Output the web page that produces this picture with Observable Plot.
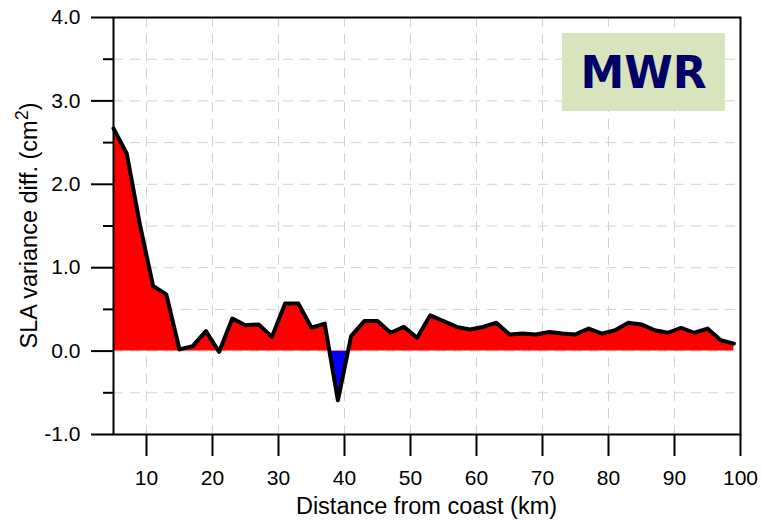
<!DOCTYPE html>
<html>
<head>
<meta charset="utf-8">
<script src="https://cdn.jsdelivr.net/npm/d3@7"></script>
<script src="https://cdn.jsdelivr.net/npm/@observablehq/plot@0.6"></script>
<style>
  html, body { margin: 0; padding: 0; background: #fff; }
  #chart svg { display: block; background: #fff; }
</style>
</head>
<body>
<div id="chart"></div>
<script>
// Distance from the coast (km) of each along-track sample
const distance = [5, 7, 9, 11, 13, 15, 17, 19, 21, 23, 25, 27, 29, 31, 33, 35,
  37, 39, 41, 43, 45, 47, 49, 51, 53, 55, 57, 59, 61, 63, 65, 67,
  69, 71, 73, 75, 77, 79, 81, 83, 85, 87, 89, 91, 93, 95, 97, 99];

// SLA variance difference (cm^2) at each distance
const varianceDiff = [2.67, 2.37, 1.52, 0.78, 0.68, 0.02, 0.06, 0.24, -0.01, 0.39, 0.31, 0.32, 0.17, 0.57, 0.57, 0.28,
  0.33, -0.59, 0.18, 0.36, 0.36, 0.22, 0.29, 0.16, 0.43, 0.36, 0.29, 0.26, 0.29, 0.34, 0.20, 0.21,
  0.20, 0.23, 0.21, 0.20, 0.27, 0.21, 0.25, 0.34, 0.32, 0.25, 0.22, 0.28, 0.22, 0.27, 0.13, 0.09];

// Axis ticks and grid positions
const xTicks = [10, 20, 30, 40, 50, 60, 70, 80, 90, 100];
const xGrid = [10, 20, 30, 40, 50, 60, 70, 80, 90];
const yTicks = [-1, 0, 1, 2, 3, 4];
const yMinorTicks = [-0.5, 0.5, 1.5, 2.5, 3.5];
const yGrid = [-0.5, 0, 0.5, 1, 1.5, 2, 2.5, 3, 3.5];

const xLabel = "Distance from coast (km)";
const yLabel = "SLA variance diff. (cm";
const yLabelSup = "2";
const badge = "MWR";

const data = distance.map((d, i) => ({distance: d, value: varianceDiff[i]}));

const W = 761, H = 522;
const font = "'Liberation Sans', Arial, Helvetica, sans-serif";

const plot = Plot.plot({
  width: W,
  height: H,
  marginLeft: 113,
  marginRight: 21,
  marginTop: 17,
  marginBottom: 88,
  style: {fontFamily: font, background: "#fff", color: "#000"},
  x: {domain: [5, 100]},
  y: {domain: [-1, 4]},
  marks: [
    Plot.gridX(xGrid, {stroke: "#d2d2d2", strokeOpacity: 1, strokeWidth: 1, strokeDasharray: "10,7"}),
    Plot.gridY(yGrid, {stroke: "#d2d2d2", strokeOpacity: 1, strokeWidth: 1, strokeDasharray: "10,7"}),
    // filled area: red above zero, blue below (gradient defined after render)
    Plot.areaY(data, {x: "distance", y: "value", fill: "url(#signFill)"}),
    Plot.lineY(data, {x: "distance", y: "value", stroke: "#000", strokeWidth: 4, strokeLinejoin: "round", strokeLinecap: "round"}),
    Plot.frame({stroke: "#000", strokeWidth: 2}),
    Plot.axisX(xTicks, {tickSize: 22, tickPadding: 14, fontSize: 21, strokeWidth: 2, label: null}),
    Plot.axisY(yTicks, {tickSize: 22, tickPadding: 11, fontSize: 21, strokeWidth: 2, label: null, tickFormat: d => d.toFixed(1)}),
    Plot.axisY(yMinorTicks, {tickSize: 10, strokeWidth: 2, label: null, tickFormat: () => ""})
  ]
});

document.getElementById("chart").append(plot);

const svg = d3.select(plot);
const xs = plot.scale("x");
const ys = plot.scale("y");
const [fx0, fx1] = xs.range;
const [fy0, fy1] = ys.range; // bottom, top
const zeroY = ys.apply(0);

// Hard colour switch at y = 0 for the area fill
const defs = svg.insert("defs", ":first-child");
const grad = defs.append("linearGradient")
  .attr("id", "signFill")
  .attr("gradientUnits", "userSpaceOnUse")
  .attr("x1", 0).attr("x2", 0)
  .attr("y1", 0).attr("y2", H);
grad.append("stop").attr("offset", zeroY / H).attr("stop-color", "#ff0000");
grad.append("stop").attr("offset", zeroY / H).attr("stop-color", "#0000ff");

// Axis titles
svg.append("text")
  .attr("x", (fx0 + fx1) / 2)
  .attr("y", fy0 + 80)
  .attr("text-anchor", "middle")
  .attr("font-family", font)
  .attr("font-size", 23.5)
  .attr("fill", "#000")
  .text(xLabel);

const yt = svg.append("text")
  .attr("transform", `translate(${fx0 - 76},${(fy0 + fy1) / 2}) rotate(-90)`)
  .attr("text-anchor", "middle")
  .attr("font-family", font)
  .attr("font-size", 23.5)
  .attr("fill", "#000");
yt.append("tspan").text(yLabel);
yt.append("tspan").attr("dy", -9).attr("font-size", 18).text(yLabelSup);
yt.append("tspan").attr("dy", 9).text(")");

// Instrument badge in the upper-right corner
const bw = 163, bh = 78;
const bx = fx1 - 15 - bw, by = fy1 + 16;
svg.append("rect")
  .attr("x", bx).attr("y", by)
  .attr("width", bw).attr("height", bh)
  .attr("fill", "#d8e4bc");
svg.append("text")
  .attr("x", bx + bw / 2)
  .attr("y", by + 55)
  .attr("text-anchor", "middle")
  .attr("font-family", "'Comic Sans MS', 'DejaVu Sans', sans-serif")
  .attr("font-weight", "bold")
  .attr("font-size", 44)
  .attr("fill", "#000066")
  .text(badge);
</script>
</body>
</html>
